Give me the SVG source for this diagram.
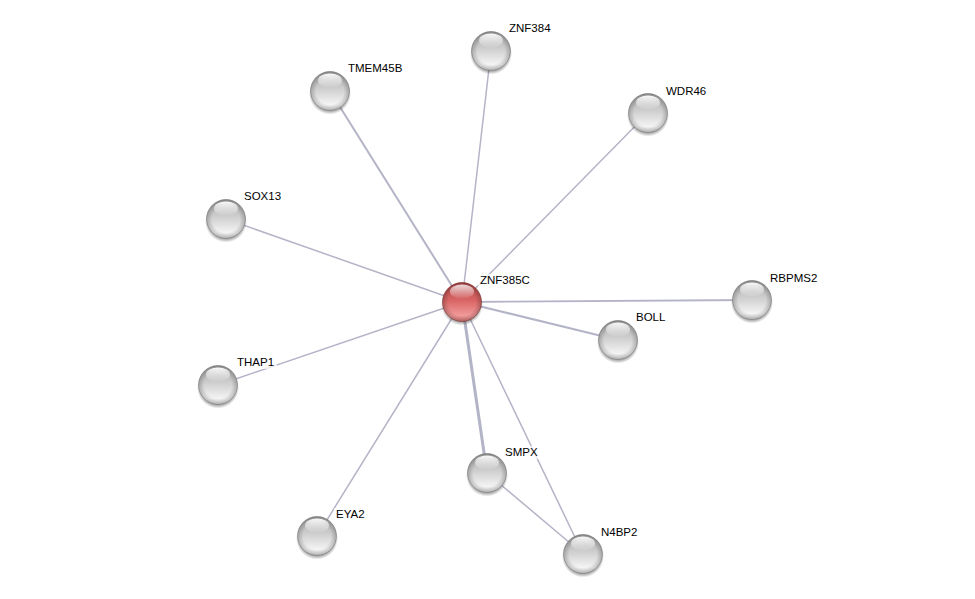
<svg xmlns="http://www.w3.org/2000/svg" width="975" height="599" viewBox="0 0 975 599">
<defs>
<linearGradient id="gGray" x1="0" y1="0" x2="0" y2="1">
<stop offset="0" stop-color="#a8a8a8"/>
<stop offset="0.45" stop-color="#cfcfcf"/>
<stop offset="0.85" stop-color="#f4f4f4"/>
<stop offset="1" stop-color="#e0e0e0"/>
</linearGradient>
<linearGradient id="gRed" x1="0" y1="0" x2="0" y2="1">
<stop offset="0" stop-color="#b84848"/>
<stop offset="0.45" stop-color="#d86464"/>
<stop offset="0.85" stop-color="#f29a9a"/>
<stop offset="1" stop-color="#e07a7a"/>
</linearGradient>
<radialGradient id="gRim" cx="0.5" cy="0.5" r="0.5">
<stop offset="0.7" stop-color="#000" stop-opacity="0"/>
<stop offset="1" stop-color="#000" stop-opacity="0.22"/>
</radialGradient>
<linearGradient id="gHi" x1="0" y1="0" x2="0" y2="1">
<stop offset="0" stop-color="#ffffff" stop-opacity="0.95"/>
<stop offset="1" stop-color="#ffffff" stop-opacity="0.05"/>
</linearGradient>
<radialGradient id="gShadow" cx="0.5" cy="0.5" r="0.5">
<stop offset="0.75" stop-color="#000" stop-opacity="0.5"/>
<stop offset="1" stop-color="#000" stop-opacity="0"/>
</radialGradient>
<g id="sphere">
<circle cx="0" cy="2.5" r="21" fill="url(#gShadow)"/>
<circle cx="0" cy="0" r="19.5" fill="url(#gGray)" stroke="#8a8a8a" stroke-width="0.6"/>
<circle cx="0" cy="0" r="19.5" fill="url(#gRim)"/>
<ellipse cx="0" cy="-10.5" rx="12" ry="7" fill="url(#gHi)"/>
</g>
<g id="sphereRed">
<circle cx="0" cy="2.5" r="21" fill="url(#gShadow)"/>
<circle cx="0" cy="0" r="19.5" fill="url(#gRed)" stroke="#8c3a3a" stroke-width="0.6"/>
<circle cx="0" cy="0" r="19.5" fill="url(#gRim)"/>
<ellipse cx="0" cy="-10.5" rx="12" ry="7" fill="url(#gHi)" opacity="0.85"/>
</g>
</defs>
<style>
.e{stroke:#b4b4c8;fill:none;stroke-linecap:round}
.lbl{font-family:"Liberation Sans",Arial,sans-serif;font-size:11.5px;fill:#000}
.bg{fill:#ffffff;fill-opacity:0.7}
</style>
<rect width="975" height="599" fill="#ffffff"/>
<g id="edges">
<line class="e" x1="462" y1="302" x2="491" y2="51" stroke-width="1.5"/>
<line class="e" x1="462" y1="302" x2="330" y2="91" stroke-width="2"/>
<line class="e" x1="462" y1="302" x2="648" y2="113" stroke-width="1.5"/>
<line class="e" x1="462" y1="302" x2="226" y2="219" stroke-width="1.5"/>
<line class="e" x1="462" y1="302" x2="752" y2="300" stroke-width="1.8"/>
<line class="e" x1="462" y1="302" x2="618" y2="340" stroke-width="2.2"/>
<line class="e" x1="462" y1="302" x2="218" y2="385" stroke-width="1.5"/>
<line class="e" x1="462" y1="302" x2="487" y2="473" stroke-width="3"/>
<line class="e" x1="462" y1="302" x2="317" y2="536" stroke-width="1.5"/>
<line class="e" x1="462" y1="302" x2="583" y2="554" stroke-width="1.5"/>
<line class="e" x1="487" y1="473" x2="583" y2="554" stroke-width="1.5"/>
</g>
<g id="ZNF384"><use href="#sphere" x="491" y="51"/><rect class="bg" x="507" y="22" width="48" height="13"/><text class="lbl" x="509" y="32">ZNF384</text></g>
<g id="TMEM45B"><use href="#sphere" x="330" y="91"/><rect class="bg" x="346" y="62" width="62" height="13"/><text class="lbl" x="348" y="72">TMEM45B</text></g>
<g id="WDR46"><use href="#sphere" x="648" y="113"/><rect class="bg" x="664" y="85" width="44" height="13"/><text class="lbl" x="666" y="95">WDR46</text></g>
<g id="SOX13"><use href="#sphere" x="226" y="219"/><rect class="bg" x="242" y="190" width="43" height="13"/><text class="lbl" x="244" y="200">SOX13</text></g>
<g id="RBPMS2"><use href="#sphere" x="752" y="300"/><rect class="bg" x="768" y="272" width="54" height="13"/><text class="lbl" x="770" y="282">RBPMS2</text></g>
<g id="BOLL"><use href="#sphere" x="618" y="340"/><rect class="bg" x="634" y="311" width="36" height="13"/><text class="lbl" x="636" y="321">BOLL</text></g>
<g id="THAP1"><use href="#sphere" x="218" y="385"/><rect class="bg" x="235" y="356" width="42" height="13"/><text class="lbl" x="237" y="366">THAP1</text></g>
<g id="SMPX"><use href="#sphere" x="487" y="473"/><rect class="bg" x="503" y="446" width="38" height="13"/><text class="lbl" x="505" y="456">SMPX</text></g>
<g id="EYA2"><use href="#sphere" x="317" y="536"/><rect class="bg" x="334" y="508" width="36" height="13"/><text class="lbl" x="336" y="518">EYA2</text></g>
<g id="N4BP2"><use href="#sphere" x="583" y="554"/><rect class="bg" x="599" y="526" width="42" height="13"/><text class="lbl" x="601" y="536">N4BP2</text></g>
<g id="ZNF385C"><use href="#sphereRed" x="462" y="302"/><rect class="bg" x="478" y="274" width="56" height="13"/><text class="lbl" x="480" y="284">ZNF385C</text></g>
</svg>
